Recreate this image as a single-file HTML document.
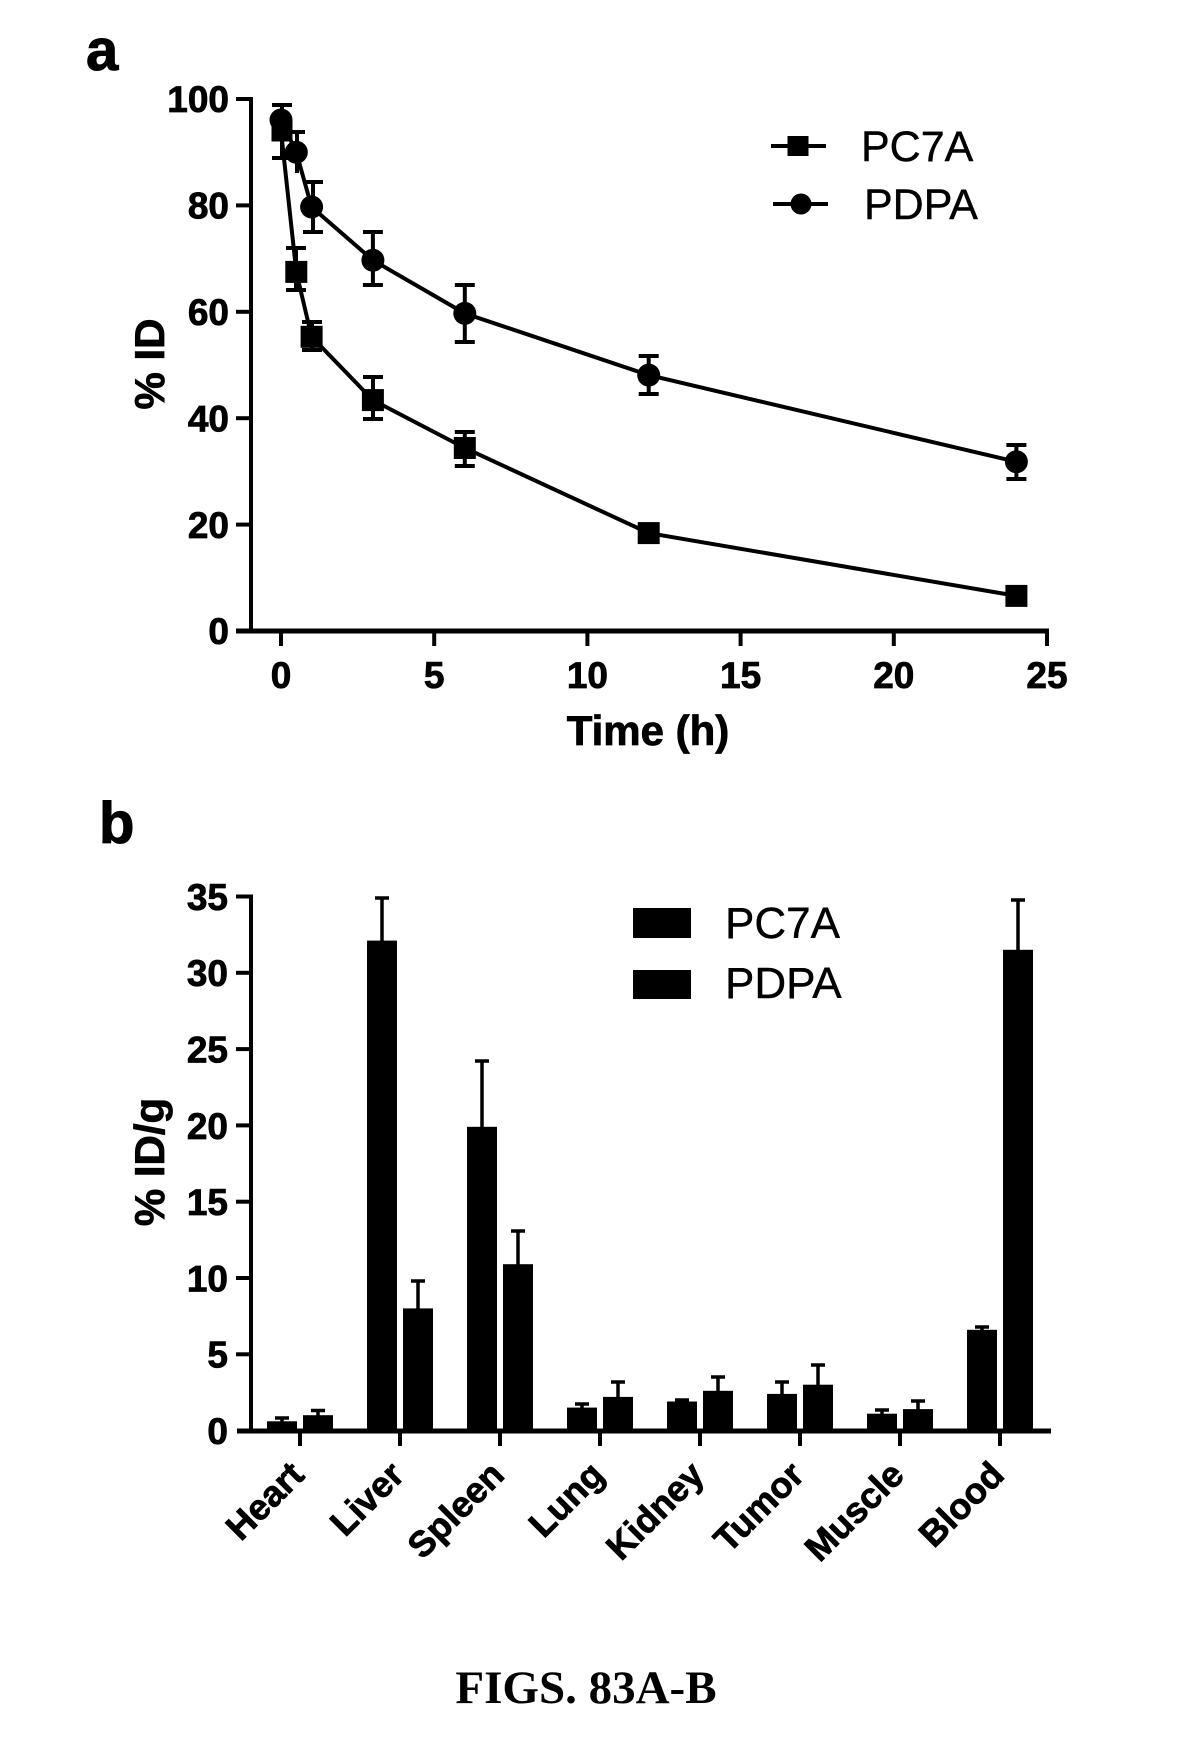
<!DOCTYPE html>
<html><head><meta charset="utf-8"><style>
html,body{margin:0;padding:0;background:#fff;}
svg{display:block;}
</style></head><body>
<svg width="1185" height="1744" viewBox="0 0 1185 1744" xmlns="http://www.w3.org/2000/svg" font-family="'Liberation Sans', Arial, sans-serif">
<rect width="1185" height="1744" fill="#fff"/>

<!-- ===== Panel a ===== -->
<text x="86" y="70" font-size="58" font-weight="bold" stroke="#000" stroke-width="1">a</text>

<!-- axes -->
<g stroke="#000" stroke-width="4" fill="none">
  <line x1="251" y1="97" x2="251" y2="633"/>
  <line x1="236" y1="631" x2="1049" y2="631" stroke-width="5"/>
  <!-- y ticks -->
  <line x1="236" y1="99" x2="251" y2="99"/>
  <line x1="236" y1="205.4" x2="251" y2="205.4"/>
  <line x1="236" y1="311.8" x2="251" y2="311.8"/>
  <line x1="236" y1="418.2" x2="251" y2="418.2"/>
  <line x1="236" y1="524.6" x2="251" y2="524.6"/>
  <!-- x ticks -->
  <line x1="281" y1="631" x2="281" y2="646"/>
  <line x1="434.2" y1="631" x2="434.2" y2="646"/>
  <line x1="587.4" y1="631" x2="587.4" y2="646"/>
  <line x1="740.6" y1="631" x2="740.6" y2="646"/>
  <line x1="893.8" y1="631" x2="893.8" y2="646"/>
  <line x1="1047" y1="629" x2="1047" y2="646"/>
</g>
<g font-size="37" font-weight="bold" text-anchor="end" stroke="#000" stroke-width="0.8">
  <text x="229" y="112">100</text>
  <text x="229" y="218.5">80</text>
  <text x="229" y="325">60</text>
  <text x="229" y="431.5">40</text>
  <text x="229" y="538">20</text>
  <text x="229" y="644">0</text>
</g>
<g font-size="37" font-weight="bold" text-anchor="middle" stroke="#000" stroke-width="0.8">
  <text x="281" y="688">0</text>
  <text x="434.2" y="688">5</text>
  <text x="587.4" y="688">10</text>
  <text x="740.6" y="688">15</text>
  <text x="893.8" y="688">20</text>
  <text x="1047" y="688">25</text>
</g>
<text x="648" y="745" font-size="42" font-weight="bold" text-anchor="middle" stroke="#000" stroke-width="0.8">Time (h)</text>
<text transform="translate(164,364) rotate(-90)" font-size="42" font-weight="bold" text-anchor="middle" stroke="#000" stroke-width="0.8">% ID</text>

<!-- series lines -->
<g stroke="#000" stroke-width="4" fill="none">
  <polyline points="281,120 296.3,152.2 311.6,207 372.9,260.2 464.8,313.4 648.7,375.1 1016.4,461.8"/>
  <polyline points="281,131 296.3,271.9 311.6,336.8 372.9,400.1 464.8,448 648.7,533.1 1016.4,595.9"/>
</g>
<!-- error bars a -->
<g stroke="#000" stroke-width="4" fill="none">
  <!-- PDPA -->
  <line x1="282" y1="105" x2="282" y2="138"/><line x1="272" y1="105" x2="292" y2="105"/>
  <line x1="297" y1="132" x2="297" y2="173"/><line x1="289" y1="132" x2="305" y2="132"/>
  <line x1="313" y1="182" x2="313" y2="232"/><line x1="303" y1="182" x2="323" y2="182"/><line x1="303" y1="232" x2="323" y2="232"/>
  <line x1="372.9" y1="232" x2="372.9" y2="285"/><line x1="362.9" y1="232" x2="382.9" y2="232"/><line x1="362.9" y1="285" x2="382.9" y2="285"/>
  <line x1="464.8" y1="285" x2="464.8" y2="342"/><line x1="454.8" y1="285" x2="474.8" y2="285"/><line x1="454.8" y1="342" x2="474.8" y2="342"/>
  <line x1="648.7" y1="356" x2="648.7" y2="394"/><line x1="638.7" y1="356" x2="658.7" y2="356"/><line x1="638.7" y1="394" x2="658.7" y2="394"/>
  <line x1="1016.4" y1="445" x2="1016.4" y2="479"/><line x1="1006.4" y1="445" x2="1026.4" y2="445"/><line x1="1006.4" y1="479" x2="1026.4" y2="479"/>
  <!-- PC7A -->
  <line x1="282" y1="105" x2="282" y2="158"/><line x1="272" y1="158" x2="290" y2="158"/>
  <line x1="296" y1="248" x2="296" y2="290"/><line x1="286" y1="248" x2="306" y2="248"/><line x1="286" y1="290" x2="306" y2="290"/>
  <line x1="312" y1="322" x2="312" y2="350"/><line x1="302" y1="322" x2="322" y2="322"/><line x1="302" y1="350" x2="322" y2="350"/>
  <line x1="373" y1="377" x2="373" y2="419"/><line x1="363" y1="377" x2="383" y2="377"/><line x1="363" y1="419" x2="383" y2="419"/>
  <line x1="464.8" y1="432" x2="464.8" y2="466"/><line x1="454.8" y1="432" x2="474.8" y2="432"/><line x1="454.8" y1="466" x2="474.8" y2="466"/>
</g>
<!-- markers -->
<g fill="#000">
  <circle cx="281" cy="120" r="11.5"/>
  <circle cx="296.3" cy="152.2" r="11.5"/>
  <circle cx="311.6" cy="207" r="11.5"/>
  <circle cx="372.9" cy="260.2" r="11.5"/>
  <circle cx="464.8" cy="313.4" r="11.5"/>
  <circle cx="648.7" cy="375.1" r="11.5"/>
  <circle cx="1016.4" cy="461.8" r="11.5"/>
  <rect x="271.5" y="119.5" width="21" height="22"/>
  <rect x="285.3" y="260.9" width="22" height="22"/>
  <rect x="300.6" y="325.8" width="22" height="22"/>
  <rect x="361.9" y="389.1" width="22" height="22"/>
  <rect x="453.8" y="437" width="22" height="22"/>
  <rect x="637.7" y="522.1" width="22" height="22"/>
  <rect x="1005.4" y="584.9" width="22" height="22"/>
</g>
<!-- legend a -->
<g stroke="#000" stroke-width="4"><line x1="771" y1="146" x2="826" y2="146"/><line x1="773" y1="204" x2="828" y2="204"/></g>
<rect x="787.5" y="136" width="21" height="20" fill="#000"/>
<circle cx="801" cy="204" r="10.5" fill="#000"/>
<text x="861" y="161" font-size="43" stroke="#000" stroke-width="0.4">PC7A</text>
<text x="864" y="219" font-size="43" stroke="#000" stroke-width="0.4">PDPA</text>

<!-- ===== Panel b ===== -->
<text x="99" y="843" font-size="58" font-weight="bold" stroke="#000" stroke-width="1">b</text>
<g stroke="#000" stroke-width="4" fill="none">
  <line x1="251" y1="894.5" x2="251" y2="1433"/>
  <line x1="237" y1="1431" x2="1051" y2="1431" stroke-width="5"/>
  <line x1="236" y1="896.5" x2="251" y2="896.5"/>
  <line x1="236" y1="972.8" x2="251" y2="972.8"/>
  <line x1="236" y1="1049.1" x2="251" y2="1049.1"/>
  <line x1="236" y1="1125.4" x2="251" y2="1125.4"/>
  <line x1="236" y1="1201.7" x2="251" y2="1201.7"/>
  <line x1="236" y1="1278" x2="251" y2="1278"/>
  <line x1="236" y1="1354.3" x2="251" y2="1354.3"/>
  <line x1="300" y1="1431" x2="300" y2="1446"/>
  <line x1="400" y1="1431" x2="400" y2="1446"/>
  <line x1="500" y1="1431" x2="500" y2="1446"/>
  <line x1="600" y1="1431" x2="600" y2="1446"/>
  <line x1="700" y1="1431" x2="700" y2="1446"/>
  <line x1="800" y1="1431" x2="800" y2="1446"/>
  <line x1="900" y1="1431" x2="900" y2="1446"/>
  <line x1="1000" y1="1431" x2="1000" y2="1446"/>
</g>
<g font-size="37" font-weight="bold" text-anchor="end" stroke="#000" stroke-width="0.8">
  <text x="228" y="910">35</text>
  <text x="228" y="986">30</text>
  <text x="228" y="1062.5">25</text>
  <text x="228" y="1139">20</text>
  <text x="228" y="1215">15</text>
  <text x="228" y="1291.5">10</text>
  <text x="228" y="1367.5">5</text>
  <text x="228" y="1444">0</text>
</g>
<text transform="translate(164,1162) rotate(-90)" font-size="42" font-weight="bold" text-anchor="middle" stroke="#000" stroke-width="0.8">% ID/g</text>

<!-- bars -->
<g fill="#000">
  <rect x="267" y="1421.3" width="30" height="9.7"/>
  <rect x="303" y="1415.2" width="30" height="15.8"/>
  <rect x="367" y="940.6" width="30" height="490.4"/>
  <rect x="403" y="1308.4" width="30" height="122.6"/>
  <rect x="467" y="1126.8" width="30" height="304.2"/>
  <rect x="503" y="1264.2" width="30" height="166.8"/>
  <rect x="567" y="1407.6" width="30" height="23.4"/>
  <rect x="603" y="1396.9" width="30" height="34.1"/>
  <rect x="667" y="1401.5" width="30" height="29.5"/>
  <rect x="703" y="1390.8" width="30" height="40.2"/>
  <rect x="767" y="1393.9" width="30" height="37.1"/>
  <rect x="803" y="1384.7" width="30" height="46.3"/>
  <rect x="867" y="1413.7" width="30" height="17.3"/>
  <rect x="903" y="1409.1" width="30" height="21.9"/>
  <rect x="967" y="1329.8" width="30" height="101.2"/>
  <rect x="1003" y="949.8" width="30" height="481.2"/>
</g>
<g stroke="#000" stroke-width="3.5" fill="none">
  <line x1="282" y1="1418" x2="282" y2="1422"/><line x1="275" y1="1418" x2="289" y2="1418"/>
  <line x1="318" y1="1410.5" x2="318" y2="1416"/><line x1="311" y1="1410.5" x2="325" y2="1410.5"/>
  <line x1="382" y1="898" x2="382" y2="941"/><line x1="375" y1="898" x2="389" y2="898"/>
  <line x1="418" y1="1281" x2="418" y2="1309"/><line x1="411" y1="1281" x2="425" y2="1281"/>
  <line x1="482" y1="1061" x2="482" y2="1127"/><line x1="475" y1="1061" x2="489" y2="1061"/>
  <line x1="518" y1="1231" x2="518" y2="1265"/><line x1="511" y1="1231" x2="525" y2="1231"/>
  <line x1="582" y1="1404" x2="582" y2="1408"/><line x1="575" y1="1404" x2="589" y2="1404"/>
  <line x1="618" y1="1382" x2="618" y2="1397"/><line x1="611" y1="1382" x2="625" y2="1382"/>
  <line x1="682" y1="1400" x2="682" y2="1402"/><line x1="675" y1="1400" x2="689" y2="1400"/>
  <line x1="718" y1="1377" x2="718" y2="1391"/><line x1="711" y1="1377" x2="725" y2="1377"/>
  <line x1="782" y1="1382" x2="782" y2="1394"/><line x1="775" y1="1382" x2="789" y2="1382"/>
  <line x1="818" y1="1365" x2="818" y2="1385"/><line x1="811" y1="1365" x2="825" y2="1365"/>
  <line x1="882" y1="1410" x2="882" y2="1414"/><line x1="875" y1="1410" x2="889" y2="1410"/>
  <line x1="918" y1="1401" x2="918" y2="1410"/><line x1="911" y1="1401" x2="925" y2="1401"/>
  <line x1="982" y1="1327" x2="982" y2="1330"/><line x1="975" y1="1327" x2="989" y2="1327"/>
  <line x1="1018" y1="900" x2="1018" y2="950"/><line x1="1011" y1="900" x2="1025" y2="900"/>
</g>
<!-- legend b -->
<rect x="633" y="908" width="58" height="30" fill="#000"/>
<rect x="633" y="970" width="58" height="29" fill="#000"/>
<text x="725" y="938" font-size="44" stroke="#000" stroke-width="0.4">PC7A</text>
<text x="725" y="998" font-size="44" stroke="#000" stroke-width="0.4">PDPA</text>

<!-- category labels -->
<g font-size="36" font-weight="bold" text-anchor="end" stroke="#000" stroke-width="0.8">
  <text transform="translate(306,1477) rotate(-45)">Heart</text>
  <text transform="translate(406,1477) rotate(-45)">Liver</text>
  <text transform="translate(506,1477) rotate(-45)">Spleen</text>
  <text transform="translate(606,1477) rotate(-45)">Lung</text>
  <text transform="translate(706,1477) rotate(-45)">Kidney</text>
  <text transform="translate(806,1477) rotate(-45)">Tumor</text>
  <text transform="translate(906,1477) rotate(-45)">Muscle</text>
  <text transform="translate(1006,1477) rotate(-45)">Blood</text>
</g>

<text x="586" y="1703" font-family="'Liberation Serif', 'Times New Roman', serif" font-size="47" font-weight="bold" text-anchor="middle">FIGS. 83A-B</text>
</svg>
</body></html>
